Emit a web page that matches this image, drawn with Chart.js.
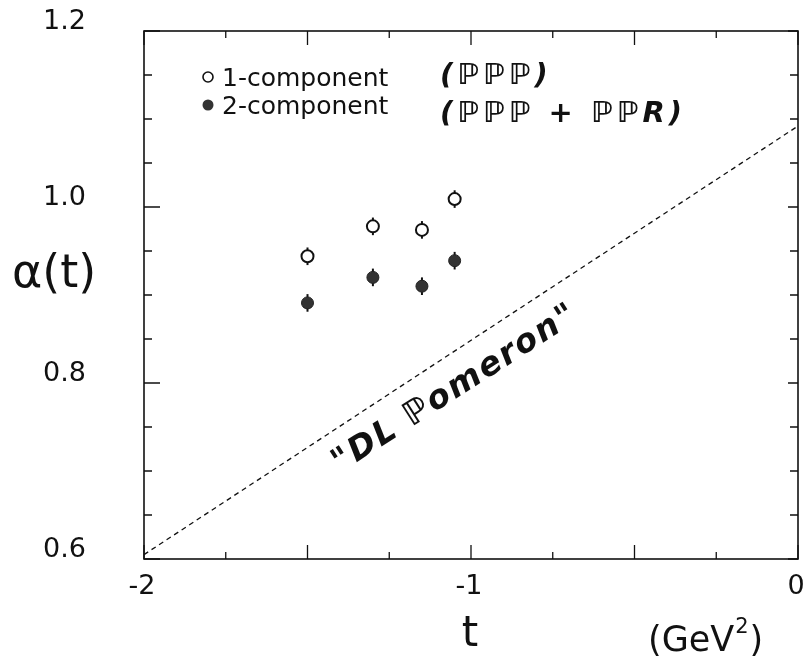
<!DOCTYPE html>
<html>
<head>
<meta charset="utf-8">
<script src="https://cdn.jsdelivr.net/npm/chart.js@4.4.1/dist/chart.umd.min.js"></script>
<style>
  html, body { margin: 0; padding: 0; background: #fff; }
  #wrap { width: 807px; height: 657px; }
</style>
</head>
<body>
<div id="wrap"><canvas id="c" width="807" height="657"></canvas></div>
<script>
// datos
const tVals   = [-1.5, -1.3, -1.15, -1.05];
const alpha1  = [0.944, 0.978, 0.974, 1.009];   // 1-component
const err1    = [0.010, 0.010, 0.010, 0.010];
const alpha2  = [0.891, 0.920, 0.910, 0.939];   // 2-component
const err2    = [0.010, 0.010, 0.010, 0.010];
const dlT     = [-2, 0];                        // "DL Pomeron"
const dlAlpha = [0.605, 1.092];
const xTickLabels = [-2, -1, 0];
const yTickLabels = [0.6, 0.8, 1.0, 1.2];

const INK = '#111';
const near = (v, list) => list.some(l => Math.abs(v - l) < 1e-6);

const pts = (xs, ys) => xs.map((x, i) => ({ x, y: ys[i] }));

// marco, ticks interiores, barras de error y anotaciones
const decor = {
    id: 'decor',
    beforeDatasetsDraw(chart) {
        const { ctx, scales: { x, y } } = chart;
        ctx.save();
        ctx.strokeStyle = INK;
        ctx.lineWidth = 2;
        [[alpha1, err1], [alpha2, err2]].forEach(([vals, errs]) => {
            vals.forEach((v, i) => {
                const px = x.getPixelForValue(tVals[i]);
                ctx.beginPath();
                ctx.moveTo(px, y.getPixelForValue(v - errs[i]));
                ctx.lineTo(px, y.getPixelForValue(v + errs[i]));
                ctx.stroke();
            });
        });
        ctx.restore();
    },
    afterDraw(chart) {
        const { ctx, chartArea: a, scales: { x, y } } = chart;
        ctx.save();
        ctx.strokeStyle = INK;
        ctx.lineWidth = 1.6;
        ctx.strokeRect(a.left, a.top, a.right - a.left, a.bottom - a.top);

        ctx.lineWidth = 1.3;
        x.ticks.forEach(t => {
            const px = x.getPixelForValue(t.value);
            const len = near(t.value, [-2, -1.5, -1, -0.5, 0]) ? 14 : 7;
            ctx.beginPath();
            ctx.moveTo(px, a.bottom); ctx.lineTo(px, a.bottom - len);
            ctx.moveTo(px, a.top);    ctx.lineTo(px, a.top + len);
            ctx.stroke();
        });
        y.ticks.forEach(t => {
            const py = y.getPixelForValue(t.value);
            const major = near(t.value, yTickLabels);
            ctx.beginPath();
            ctx.moveTo(a.left, py);  ctx.lineTo(a.left + (major ? 16 : 8), py);
            ctx.moveTo(a.right, py); ctx.lineTo(a.right - (major ? 10 : 8), py);
            ctx.stroke();
        });

        // leyenda
        ctx.lineWidth = 1.6;
        ctx.fillStyle = '#fff';
        ctx.beginPath(); ctx.arc(208, 77, 5, 0, Math.PI * 2); ctx.fill(); ctx.stroke();
        ctx.fillStyle = '#333';
        ctx.beginPath(); ctx.arc(208, 105, 5.5, 0, Math.PI * 2); ctx.fill();
        ctx.fillStyle = INK;
        ctx.font = '25px "DejaVu Sans"';
        ctx.textBaseline = 'alphabetic';
        ctx.textAlign = 'left';
        ctx.fillText('1-component', 222, 86);
        ctx.fillText('2-component', 222, 114);

        // notas a mano
        ctx.font = 'italic bold 29px "DejaVu Sans"';
        ctx.letterSpacing = '4px';
        ctx.fillText('(ℙℙℙ)', 440, 84);
        ctx.fillText('(ℙℙℙ + ℙℙR)', 440, 122);

        ctx.save();
        ctx.translate(460, 396);
        ctx.rotate(-0.57);
        ctx.font = 'italic bold 33px "DejaVu Sans"';
        ctx.letterSpacing = '2px';
        ctx.textAlign = 'center';
        ctx.fillText('"DL ℙomeron"', 0, 0);
        ctx.restore();
        ctx.letterSpacing = '0px';

        // títulos de ejes
        ctx.font = '46px "DejaVu Sans"';
        ctx.fillText('α(t)', 12, 287);
        ctx.textAlign = 'center';
        ctx.font = '42px "DejaVu Sans"';
        ctx.fillText('t', 470, 646);
        ctx.textAlign = 'left';
        ctx.font = '35px "DejaVu Sans"';
        ctx.fillText('(GeV', 648, 651);
        const w = ctx.measureText('(GeV').width;
        ctx.font = '21px "DejaVu Sans"';
        ctx.fillText('2', 648 + w + 1, 633);
        const w2 = ctx.measureText('2').width;
        ctx.font = '35px "DejaVu Sans"';
        ctx.fillText(')', 648 + w + w2 + 2, 651);
        ctx.restore();
    }
};

new Chart(document.getElementById('c'), {
    type: 'scatter',
    data: {
        datasets: [
            {
                label: '1-component', data: pts(tVals, alpha1),
                pointStyle: 'circle', pointRadius: 6, pointHoverRadius: 6,
                backgroundColor: '#fff', borderColor: INK, borderWidth: 2
            },
            {
                label: '2-component', data: pts(tVals, alpha2),
                pointStyle: 'circle', pointRadius: 6, pointHoverRadius: 6,
                backgroundColor: '#333', borderColor: '#222', borderWidth: 1
            },
            {
                label: 'DL Pomeron', data: pts(dlT, dlAlpha), type: 'line',
                showLine: true, borderColor: INK, borderWidth: 1.3,
                borderDash: [5, 4], pointRadius: 0, fill: false
            }
        ]
    },
    options: {
        responsive: false, animation: false,
        layout: { padding: { top: 31, right: 9, left: 0, bottom: 0 } },
        plugins: { legend: { display: false }, tooltip: { enabled: false } },
        scales: {
            x: {
                type: 'linear', min: -2, max: 0,
                grid: { display: true, drawOnChartArea: false, drawTicks: true, tickLength: 12, tickColor: 'transparent' },
                border: { display: false },
                afterFit: (s) => { s.height = 98; },
                ticks: {
                    stepSize: 0.25, autoSkip: false, maxRotation: 0,
                    padding: 0, labelOffset: -2, color: INK,
                    font: { family: 'DejaVu Sans', size: 27 },
                    callback: (v) => near(v, xTickLabels) ? String(Math.round(v)) : ''
                }
            },
            y: {
                type: 'linear', min: 0.6, max: 1.2,
                grid: { display: true, drawOnChartArea: false, drawTicks: true, tickLength: 58, tickColor: 'transparent' },
                border: { display: false },
                afterFit: (s) => { s.width = 144; },
                ticks: {
                    stepSize: 0.05, autoSkip: false,
                    padding: 0, labelOffset: -9, color: INK,
                    font: { family: 'DejaVu Sans', size: 27 },
                    callback: (v) => near(v, yTickLabels) ? v.toFixed(1) : ''
                }
            }
        }
    },
    plugins: [decor]
});
</script>
</body>
</html>
